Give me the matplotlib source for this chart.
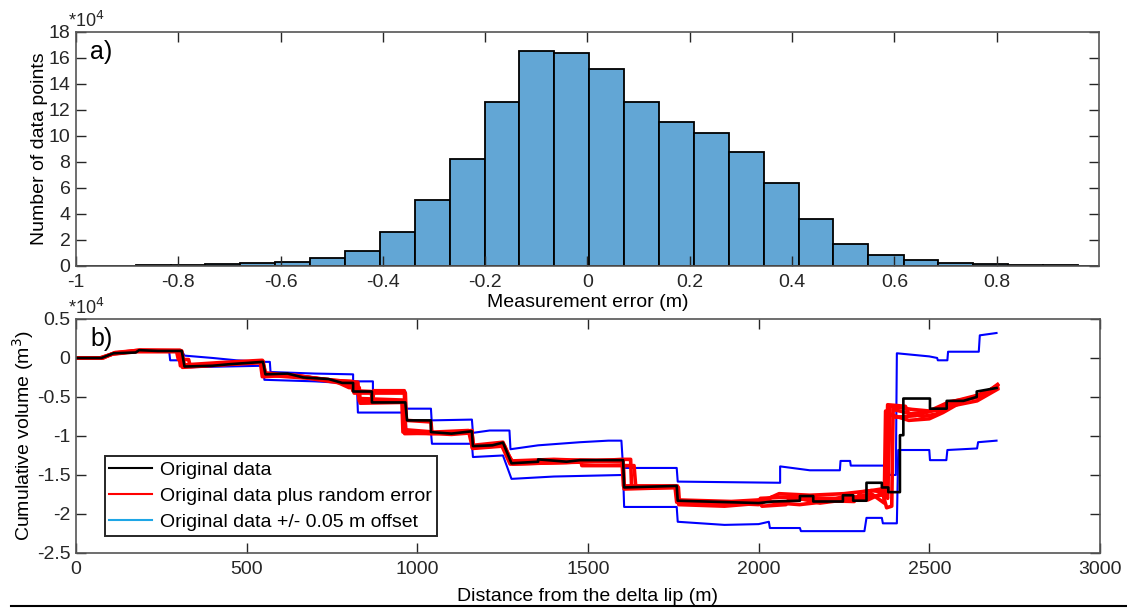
import numpy as np
import matplotlib
matplotlib.use("Agg")
import matplotlib.pyplot as plt
from matplotlib.lines import Line2D

plt.rcParams['font.family'] = ['Liberation Sans', 'DejaVu Sans']

# --- panel a) histogram of measurement error ---
bin_edges = [-1.020, -0.951, -0.883, -0.815, -0.747, -0.679, -0.610, -0.542, -0.474, -0.406,
             -0.337, -0.269, -0.201, -0.133, -0.065, 0.004, 0.072, 0.140, 0.208, 0.277,
             0.345, 0.413, 0.481, 0.549, 0.618, 0.686, 0.754, 0.822, 0.890, 0.959, 1.027]
counts = [0.01, 0.02, 0.04, 0.07, 0.12, 0.20, 0.30, 0.58, 1.14, 2.62,
          5.11, 8.21, 12.60, 16.55, 16.42, 15.13, 12.64, 11.11, 10.25, 8.80,
          6.36, 3.61, 1.73, 0.84, 0.46, 0.23, 0.13, 0.07, 0.04, 0.03]   # x 1e4

# --- panel b) cumulative volume (x 1e4 m^3) vs distance (m) ---
dist_orig = [0, 75, 110, 175, 185, 240, 310, 318, 400, 450, 548, 555, 620, 666, 740, 780, 812, 812,
             867, 867, 965, 970, 1040, 1040, 1100, 1160, 1163, 1220, 1251, 1276, 1354, 1354, 1437,
             1477, 1603, 1606, 1760, 1763, 2000, 2043, 2121, 2121, 2160, 2160, 2247, 2247, 2277,
             2277, 2316, 2316, 2361, 2361, 2380, 2380, 2414, 2414, 2424, 2424, 2502, 2502, 2551,
             2551, 2600, 2639, 2639, 2697]
vol_orig = [0, 0, 0.06, 0.07, 0.10, 0.09, 0.09, -0.11, -0.10, -0.08, -0.05, -0.21, -0.20, -0.25,
            -0.27, -0.32, -0.32, -0.43, -0.43, -0.57, -0.57, -0.80, -0.80, -0.95, -0.97, -0.94,
            -1.13, -1.12, -1.085, -1.35, -1.33, -1.30, -1.33, -1.31, -1.31, -1.66, -1.64, -1.83,
            -1.86, -1.84, -1.83, -1.77, -1.77, -1.84, -1.84, -1.76, -1.76, -1.83, -1.83, -1.60,
            -1.60, -1.66, -1.66, -1.72, -1.72, -0.99, -0.99, -0.52, -0.52, -0.65, -0.65, -0.55,
            -0.55, -0.50, -0.43, -0.385]

dist_rand1 = [0, 70, 105, 180, 300, 306, 400, 545, 550, 650, 760, 808, 811, 865, 868, 960, 963,
              1100, 1160, 1163, 1250, 1275, 1480, 1603, 1606, 1758, 1761, 1900, 2000, 2005, 2100,
              2200, 2300, 2372, 2378, 2385, 2450, 2500, 2550, 2640, 2698]
vol_rand1 = [0, 0, 0.05, 0.09, 0.09, -0.10, -0.08, -0.04, -0.21, -0.23, -0.29, -0.30, -0.42,
             -0.43, -0.55, -0.56, -0.97, -0.96, -0.93, -1.14, -1.10, -1.34, -1.31, -1.31, -1.66,
             -1.65, -1.84, -1.86, -1.88, -1.80, -1.78, -1.80, -1.80, -1.75, -1.80, -0.62, -0.66,
             -0.68, -0.58, -0.48, -0.37]
dist_rand2 = [0, 80, 115, 190, 305, 312, 460, 548, 556, 680, 790, 825, 830, 870, 872, 962, 966,
              1040, 1045, 1160, 1165, 1255, 1280, 1480, 1482, 1635, 1640, 1755, 1760, 1950, 2030,
              2060, 2150, 2250, 2330, 2372, 2378, 2430, 2440, 2540, 2560, 2650, 2700]
vol_rand2 = [0, 0, 0.07, 0.10, 0.10, -0.12, -0.08, -0.06, -0.22, -0.26, -0.33, -0.36, -0.55,
             -0.55, -0.42, -0.42, -0.96, -0.97, -0.96, -0.95, -1.15, -1.12, -1.36, -1.33, -1.38,
             -1.38, -1.65, -1.65, -1.85, -1.87, -1.80, -1.74, -1.76, -1.74, -1.70, -1.72, -0.60,
             -0.62, -0.72, -0.66, -0.56, -0.50, -0.34]
dist_rand3 = [0, 75, 110, 185, 310, 318, 440, 548, 555, 666, 780, 812, 815, 965, 968, 1040, 1043,
              1160, 1163, 1251, 1276, 1437, 1600, 1625, 1628, 1765, 1768, 2000, 2010, 2080, 2090,
              2200, 2280, 2300, 2360, 2375, 2390, 2394, 2480, 2520, 2560, 2640, 2700]
vol_rand3 = [0, 0, 0.06, 0.10, 0.09, -0.10, -0.07, -0.04, -0.20, -0.24, -0.31, -0.33, -0.45,
             -0.45, -0.80, -0.82, -0.97, -0.94, -1.12, -1.08, -1.34, -1.34, -1.30, -1.30, -1.67,
             -1.66, -1.86, -1.85, -1.90, -1.88, -1.80, -1.83, -1.84, -1.72, -1.68, -1.92, -1.90,
             -0.66, -0.75, -0.72, -0.62, -0.55, -0.40]
dist_rand4 = [0, 72, 108, 178, 295, 300, 330, 335, 480, 540, 546, 640, 760, 800, 830, 833, 955,
              958, 1100, 1158, 1161, 1245, 1272, 1520, 1603, 1606, 1760, 1763, 1920, 2000, 2060,
              2120, 2200, 2260, 2320, 2378, 2382, 2440, 2500, 2540, 2600, 2660, 2700]
vol_rand4 = [0, 0, 0.05, 0.08, 0.08, -0.02, -0.02, -0.11, -0.07, -0.05, -0.24, -0.22, -0.30,
             -0.38, -0.38, -0.58, -0.57, -0.95, -0.98, -0.96, -1.15, -1.10, -1.36, -1.33, -1.33,
             -1.68, -1.66, -1.82, -1.84, -1.82, -1.86, -1.88, -1.84, -1.76, -1.82, -1.70, -0.72,
             -0.80, -0.78, -0.70, -0.55, -0.46, -0.35]
dist_rand5 = [0, 78, 112, 182, 308, 314, 420, 546, 553, 700, 790, 826, 829, 960, 964, 1050, 1150,
              1162, 1250, 1278, 1400, 1600, 1604, 1762, 1766, 1900, 2010, 2040, 2120, 2180, 2250,
              2330, 2368, 2372, 2400, 2460, 2520, 2580, 2660, 2700]
vol_rand5 = [0, 0, 0.06, 0.09, 0.09, -0.09, -0.06, -0.03, -0.19, -0.26, -0.30, -0.31, -0.52,
             -0.54, -0.92, -0.95, -0.93, -1.16, -1.13, -1.32, -1.30, -1.33, -1.64, -1.64, -1.88,
             -1.90, -1.86, -1.78, -1.80, -1.86, -1.82, -1.74, -1.86, -0.68, -0.76, -0.74, -0.66,
             -0.58, -0.45, -0.38]

dist_upper = [0, 75, 110, 180, 310, 318, 400, 470, 548, 568, 570, 700, 812, 812, 870, 870, 965, 968,
              1040, 1042, 1160, 1163, 1212, 1270, 1273, 1354, 1477, 1560, 1598, 1603, 1760, 1763,
              2063, 2063, 2150, 2238, 2240, 2268, 2270, 2380, 2383, 2402, 2405, 2500, 2523, 2525,
              2553, 2555, 2645, 2648, 2697]
vol_upper = [0, 0, 0.06, 0.09, 0.09, 0.03, 0.0, -0.03, -0.05, -0.05, -0.18, -0.20, -0.21, -0.30,
             -0.30, -0.43, -0.43, -0.65, -0.65, -0.80, -0.79, -0.96, -0.93, -0.93, -1.17, -1.12,
             -1.08, -1.06, -1.06, -1.41, -1.41, -1.585, -1.60, -1.39, -1.44, -1.44, -1.32, -1.32,
             -1.38, -1.38, -1.50, -1.50, 0.06, 0.02, 0.0, -0.03, -0.03, 0.08, 0.08, 0.29, 0.32]
dist_lower = [0, 75, 110, 180, 273, 276, 310, 318, 548, 552, 700, 823, 826, 965, 968, 1040, 1043,
              1160, 1163, 1251, 1276, 1400, 1603, 1606, 1760, 1763, 1900, 2000, 2030, 2033, 2121,
              2124, 2310, 2316, 2361, 2364, 2405, 2409, 2500, 2502, 2550, 2553, 2640, 2643, 2697]
vol_lower = [0, 0, 0.06, 0.09, 0.09, -0.03, -0.03, -0.12, -0.10, -0.28, -0.30, -0.33, -0.70,
             -0.70, -0.93, -0.95, -1.10, -1.10, -1.27, -1.25, -1.55, -1.52, -1.50, -1.91, -1.91,
             -2.10, -2.14, -2.13, -2.10, -2.18, -2.18, -2.22, -2.22, -2.05, -2.05, -2.12, -2.12,
             -1.18, -1.18, -1.31, -1.31, -1.18, -1.16, -1.08, -1.06]

axis_grey = '#262626'
label_fs = 14

fig = plt.figure(figsize=(11.27, 6.08), dpi=100)
ax1 = fig.add_axes([0.0674, 0.5625, 0.9077, 0.3849])
ax2 = fig.add_axes([0.0674, 0.0905, 0.9086, 0.3849])

# histogram
edges = np.array(bin_edges)
ax1.bar(edges[:-1], counts, width=np.diff(edges), align='edge',
        color='#62a6d5', edgecolor='black', linewidth=1.3)
ax1.set_xlim(-1, 1)
ax1.set_ylim(0, 18)
ax1.set_xticks([-1, -0.8, -0.6, -0.4, -0.2, 0, 0.2, 0.4, 0.6, 0.8])
ax1.set_xticklabels(['-1', '-0.8', '-0.6', '-0.4', '-0.2', '0', '0.2', '0.4', '0.6', '0.8'])
ax1.set_yticks(range(0, 19, 2))
ax1.set_xlabel('Measurement error (m)', fontsize=label_fs, color='black', labelpad=2)
ax1.set_ylabel('Number of data points', fontsize=label_fs, color='black')
ax1.yaxis.set_label_coords(-0.027, 0.5)
ax1.text(-0.008, 1.005, '*10$^4$', transform=ax1.transAxes, fontsize=13, color=axis_grey,
         ha='left', va='bottom')
ax1.text(0.014, 0.965, 'a)', transform=ax1.transAxes, fontsize=18, ha='left', va='top')

# cumulative volume
ax2.plot(dist_upper, vol_upper, color='#0000ff', lw=1.5)
ax2.plot(dist_lower, vol_lower, color='#0000ff', lw=1.5)
for dx, vy in [(dist_rand1, vol_rand1), (dist_rand2, vol_rand2), (dist_rand3, vol_rand3),
               (dist_rand4, vol_rand4), (dist_rand5, vol_rand5)]:
    ax2.plot(dx, vy, color='#ff0000', lw=2.6)
ax2.plot(dist_orig, vol_orig, color='black', lw=1.9)
ax2.set_xlim(0, 3000)
ax2.set_ylim(-2.5, 0.5)
ax2.set_xticks(range(0, 3001, 500))
ax2.set_yticks([-2.5, -2, -1.5, -1, -0.5, 0, 0.5])
ax2.set_yticklabels(['-2.5', '-2', '-1.5', '-1', '-0.5', '0', '0.5'])
ax2.set_xlabel('Distance from the delta lip (m)', fontsize=label_fs, color='black', labelpad=7)
ax2.set_ylabel('Cumulative volume (m$^3$)', fontsize=label_fs, color='black')
ax2.yaxis.set_label_coords(-0.039, 0.5)
ax2.text(-0.008, 1.005, '*10$^4$', transform=ax2.transAxes, fontsize=13, color=axis_grey,
         ha='left', va='bottom')
ax2.text(0.014, 0.965, 'b)', transform=ax2.transAxes, fontsize=18, ha='left', va='top')

handles = [Line2D([], [], color='black', lw=1.5),
           Line2D([], [], color='#ff0000', lw=1.5),
           Line2D([], [], color='#1ea6e6', lw=1.5)]
leg = ax2.legend(handles, ['Original data', 'Original data plus random error',
                           'Original data +/- 0.05 m offset'],
                 loc='lower left', bbox_to_anchor=(0.028, 0.072), fontsize=14,
                 fancybox=False, framealpha=1, edgecolor=axis_grey, handlelength=2.2,
                 handletextpad=0.4, borderpad=0.25, labelspacing=0.45, borderaxespad=0)
leg.get_frame().set_linewidth(1.4)

for ax in (ax1, ax2):
    ax.tick_params(direction='in', length=7, width=1, top=True, right=True,
                   labelsize=label_fs, colors=axis_grey)
    ax.tick_params(axis='x', pad=6)
    ax.tick_params(axis='y', pad=4)
    for s in ax.spines.values():
        s.set_color('#555555')
        s.set_linewidth(1.2)

fig.add_artist(Line2D([0.01, 1.0], [0.0025, 0.0025], transform=fig.transFigure,
                      color='black', lw=1.5))

fig.savefig('out.png', dpi=100)
